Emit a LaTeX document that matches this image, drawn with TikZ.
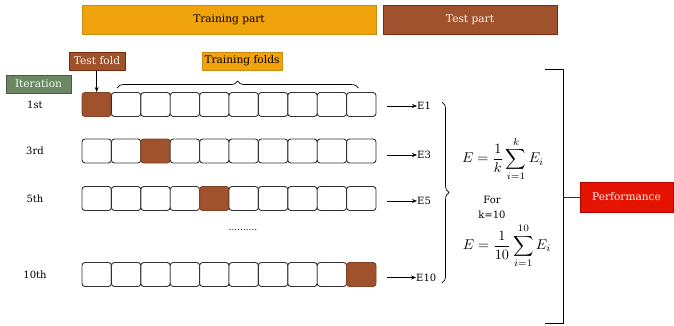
\documentclass[tikz,border=0pt]{standalone}
\usepackage{fontspec}
\setmainfont{DejaVu Serif}
\usetikzlibrary{decorations.pathreplacing,arrows.meta}
\definecolor{orangeA}{HTML}{F0A30A}
\definecolor{orangeB}{HTML}{C98A10}
\definecolor{brownA}{HTML}{A0522D}
\definecolor{brownB}{HTML}{7A2A0A}
\definecolor{greenA}{HTML}{6D8764}
\definecolor{greenB}{HTML}{3F5F36}
\definecolor{redA}{HTML}{E51400}
\definecolor{redB}{HTML}{B00000}
\definecolor{lineC}{HTML}{333333}
\tikzset{
  bar/.style={draw, line width=0.8pt, minimum height=29pt, inner sep=0pt, font=\fontsize{10.6}{12}\selectfont},
  tag/.style={draw, line width=0.8pt, minimum height=18pt, inner sep=0pt, font=\fontsize{10.6}{12}\selectfont},
  cell/.style={draw=lineC, line width=0.9pt, rounded corners=3pt, minimum width=29.4pt, minimum height=24pt, inner sep=0pt, fill=white},
  testcell/.style={cell, fill=brownA, draw=brownA!80!black},
  rowlab/.style={font=\fontsize{10}{12}\selectfont},
  elab/.style={font=\fontsize{10}{12}\selectfont, anchor=west, inner sep=0pt},
  conn/.style={-{Stealth[length=5pt,width=4pt]}, line width=0.7pt},
  brc/.style={decorate, decoration={brace, amplitude=7pt}, line width=0.7pt},
}
\begin{document}
\begin{tikzpicture}[x=1pt,y=-1pt]
\useasboundingbox (0,0) rectangle (674,326);
% top bars
\node[bar, fill=orangeA, draw=orangeB, minimum width=294pt] (train) at (229,19.5) {Training part};
\node[bar, fill=brownA, draw=brownB, minimum width=174pt, text=white!92!brown] (test) at (470,19.5) {Test part};
% labels
\node[tag, fill=brownA, draw=brownB, minimum width=56pt, text=white!92!brown] (tfold) at (97,61) {Test fold};
\node[tag, fill=orangeA, draw=orangeB, minimum width=80pt] (trfolds) at (242,61) {Training folds};
\node[tag, fill=greenA, draw=greenB, minimum width=65pt, text=white!92!green] (iter) at (38.5,84) {Iteration};
% rows
\foreach \r/\yy/\t/\lab in {1/104.5/1/1st, 3/151/3/3rd, 5/198.5/5/5th, 10/274.5/10/10th}{
  \node[rowlab] (lab\r) at (35,\yy) {\lab};
  \foreach \i in {1,...,10}{
    \ifnum\i=\t
      \node[testcell] (c\r-\i) at ({82+29.4*(\i-0.5)},\yy) {};
    \else
      \node[cell] (c\r-\i) at ({82+29.4*(\i-0.5)},\yy) {};
    \fi
  }
}
% E labels and arrows
\node[elab] (e1) at (417,106) {E1};
\node[elab] (e3) at (417,155) {E3};
\node[elab] (e5) at (417,201) {E5};
\node[elab] (e10) at (416,277.5) {E10};
\draw[conn] ([xshift=11pt]c1-10.east |- e1.west) -- (e1.west);
\draw[conn] ([xshift=11pt]c3-10.east |- e3.west) -- (e3.west);
\draw[conn] ([xshift=11pt]c5-10.east |- e5.west) -- (e5.west);
\draw[conn] ([xshift=11pt]c10-10.east |- e10.west) -- (e10.west);
% test fold arrow
\draw[conn] (tfold.south -| c1-1.north) -- (c1-1.north);
% top brace
\draw[brc] ([xshift=6pt,yshift=4pt]c1-2.north west) -- ([xshift=-18pt,yshift=4pt]c1-10.north east);
% dots
\node[font=\fontsize{9}{10}\selectfont, inner sep=0pt] (dots) at (243,230) {..........};
% right brace
\coordinate (bt) at (442,102);
\coordinate (bb) at (442,283);
\draw[brc] (bt) -- (bb);
% formulas
\node[inner sep=0pt] (f1) at (503,159) {\scalebox{1.42}{$\displaystyle E=\frac{1}{k}\sum_{i=1}^{k}E_i$}};
\node[font=\fontsize{10}{15}\selectfont, align=center, inner sep=0pt] (for) at (492,207.5) {For\\k=10};
\node[inner sep=0pt] (f2) at (507,246) {\scalebox{1.42}{$\displaystyle E=\frac{1}{10}\sum_{i=1}^{10}E_i$}};
% big bracket
\coordinate (k1) at (545,69);
\coordinate (k2) at (563,69);
\coordinate (k3) at (563,323);
\coordinate (k4) at (545,323);
\draw[line width=0.8pt] (k1) -- (k2) -- (k3) -- (k4);
\node[bar, fill=redA, draw=redB, minimum width=93pt, minimum height=30pt, text=white!95!red] (perf) at (626.5,197) {Performance};
\draw[line width=0.8pt, lineC] (perf.west -| k2) -- (perf.west);
\end{tikzpicture}
\end{document}
